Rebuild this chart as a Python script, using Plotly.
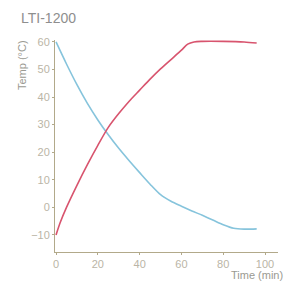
import plotly.graph_objects as go

cool_t = [0, 5, 10, 15, 20, 25, 30, 35, 40, 45, 50, 55, 60, 65, 70, 75, 80, 85, 90, 96]
cool_v = [60, 52, 44.5, 37.7, 31.7, 26.3, 21.4, 16.9, 12.6, 8.4, 4.6, 2.2, 0.4, -1.3, -2.9, -4.6, -6.3, -7.6, -7.9, -7.8]

heat_t = [0, 2, 5, 10, 15, 20, 25, 30, 35, 40, 45, 50, 55, 60, 63, 66, 70, 80, 90, 96]
heat_v = [-10, -5.5, 0, 8, 15.5, 22.5, 29, 34, 38.5, 42.5, 46.5, 50.2, 53.6, 57, 59.2, 60, 60.2, 60.2, 60, 59.6]

x_ticks = [0, 20, 40, 60, 80, 100]
y_ticks = [-10, 0, 10, 20, 30, 40, 50, 60]

fig = go.Figure()
fig.add_trace(go.Scatter(x=cool_t, y=cool_v, mode="lines",
                         line=dict(color="#86c4dc", width=1.6, shape="spline", smoothing=0.8),
                         showlegend=False))
fig.add_trace(go.Scatter(x=heat_t, y=heat_v, mode="lines",
                         line=dict(color="#d8546e", width=1.6, shape="spline", smoothing=0.8),
                         showlegend=False))

axis_col = "#b2a98a"
tick_font = dict(family="Liberation Sans, Arial", size=11, color="#bab5a6")
fig.update_layout(
    width=285, height=290,
    margin=dict(l=55, r=7, t=40, b=38),
    paper_bgcolor="white", plot_bgcolor="white",
    xaxis=dict(range=[-0.5, 106.2], tickvals=x_ticks, showgrid=False, zeroline=False,
               showline=True, linecolor=axis_col, linewidth=1,
               ticks="outside", ticklen=2, tickcolor=axis_col, tickfont=tick_font),
    yaxis=dict(range=[-16.2, 60.7], tickvals=y_ticks, showgrid=False, zeroline=False,
               showline=True, linecolor=axis_col, linewidth=1,
               ticks="outside", ticklen=2, tickcolor=axis_col, tickfont=tick_font),
    annotations=[
        dict(text="LTI-1200", xref="paper", yref="paper", x=-0.16, y=1.104, xanchor="left",
             yanchor="middle", showarrow=False,
             font=dict(family="Liberation Sans, Arial", size=14, color="#8e8e8e")),
        dict(text="Temp (°C)", xref="paper", yref="paper", x=-0.148, y=0.882, xanchor="center",
             yanchor="middle", textangle=-90, showarrow=False,
             font=dict(family="Liberation Sans, Arial", size=11, color="#9a9a92")),
        dict(text="Time (min)", xref="paper", yref="paper", x=1.031, y=-0.108, xanchor="right",
             yanchor="middle", showarrow=False,
             font=dict(family="Liberation Sans, Arial", size=11, color="#9a9a92")),
    ],
)
fig.write_html("out.html", config={"displayModeBar": False},
               post_script="document.body.style.margin='0';")
